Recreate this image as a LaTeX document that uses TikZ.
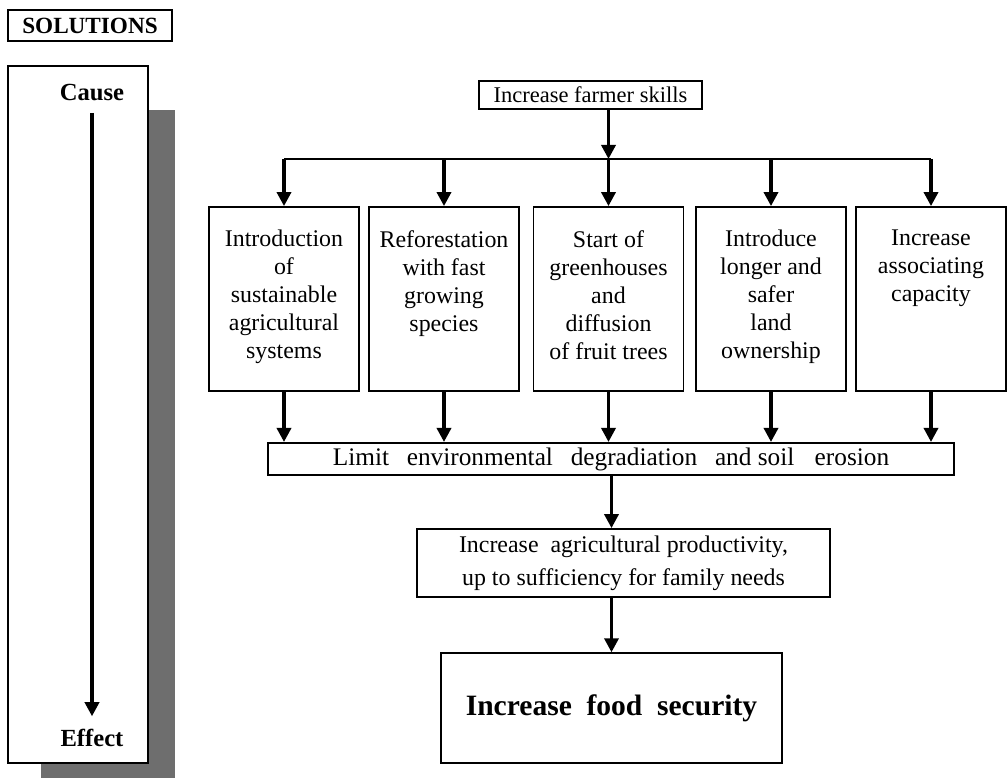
\documentclass[tikz,border=0pt]{standalone}
\usepackage{fontspec}
\setmainfont{Liberation Serif}
\usetikzlibrary{arrows.meta,positioning}
\definecolor{shadowgray}{RGB}{110,110,110}
\tikzset{
  box/.style={draw,line width=1.2pt,inner sep=0pt,font=\fontsize{17}{20}\selectfont},
  cell/.style={box,minimum width=106.7pt,minimum height=130.9pt},
  celltext/.style={align=center,inner sep=0pt,font=\fontsize{17}{19.9}\selectfont},
  tag/.style={inner sep=0pt,font=\bfseries\fontsize{17.5}{20}\selectfont},
  arr/.style={line width=2.4pt,-{Triangle[width=10pt,length=10pt]}}
}
\begin{document}
\begin{tikzpicture}[x=0.025cm,y=-0.025cm]
  \useasboundingbox (0,0) rectangle (1007,780);
  \node[box,minimum width=116.6pt,minimum height=22pt,font=\bfseries\fontsize{16.5}{18}\selectfont] (sol) at (90,25.5) {SOLUTIONS};
  \fill[shadowgray] (41,110) rectangle (175,778);
  \draw[line width=1.2pt,fill=white] (8,66) rectangle (148,763);
  \node[tag] (cause) at (92,93) {Cause};
  \node[tag] (effect) at (92,738) {Effect};
  \draw[arr,shorten <=8pt,shorten >=9pt] (cause.south) -- (effect.north);
  \node[box,minimum width=158.6pt,minimum height=20pt,font=\fontsize{16}{18}\selectfont] (skills) at (590.5,95) {Increase farmer skills};
  \coordinate (bus) at (0,159);
  \foreach \i/\x/\txt in {1/284/{Introduction\\of\\sustainable\\agricultural\\systems},
                          2/444/{Reforestation\\with fast\\growing\\species},
                          3/608.5/{Start of\\greenhouses\\and\\diffusion\\of fruit trees},
                          4/771/{Introduce\\longer and\\safer\\land\\ownership},
                          5/931/{Increase\\associating\\capacity}}{
    \node[cell] (b\i) at (\x,299) {};
    \node[celltext,below=17pt of b\i.north] (t\i) {\txt};
  }
  \node[box,minimum width=488pt,minimum height=23pt,font=\fontsize{18}{20}\selectfont] (limit) at (611,459) {Limit\hspace{0.7em}environmental\hspace{0.7em}degradiation\hspace{0.7em}and soil\hspace{0.8em}erosion};
  \node[box,minimum width=293.8pt,minimum height=48.4pt,align=center,font=\fontsize{17}{23.5}\selectfont] (prod) at (623.5,563) {Increase\ \ agricultural productivity,\\up to sufficiency for family needs};
  \node[box,minimum width=242.6pt,minimum height=78pt,font=\bfseries\fontsize{21}{24}\selectfont] (food) at (611.5,708) {Increase\ \ food\ \ security};
  \draw[line width=1.4pt] (b1.north |- bus) -- (b5.north |- bus);
  \draw[arr] (skills.south -| b3.north) -- (bus -| b3.north);
  \foreach \i in {1,...,5}{
    \draw[arr] (b\i.north |- bus) -- (b\i.north);
    \draw[arr] (b\i.south) -- (b\i.south |- limit.north);
  }
  \draw[arr] (limit.south -| food.north) -- (prod.north -| food.north);
  \draw[arr] (prod.south -| food.north) -- (food.north);
\end{tikzpicture}
\end{document}
